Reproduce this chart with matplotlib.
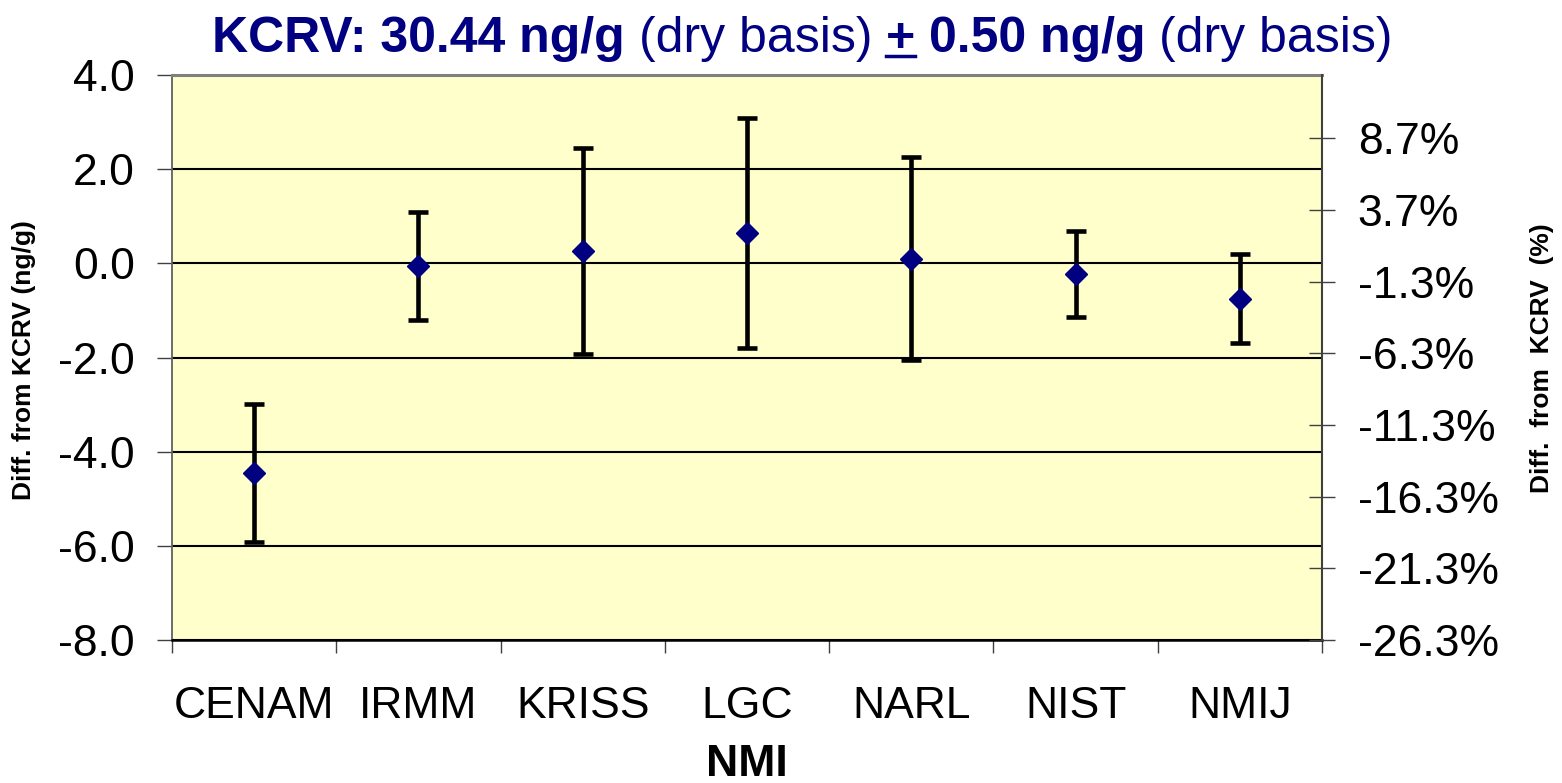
import numpy as np
import matplotlib
matplotlib.use("Agg")
import matplotlib.pyplot as plt
from matplotlib.ticker import FixedLocator, MultipleLocator
from matplotlib.lines import Line2D

plt.rcParams['font.family'] = ['Liberation Sans', 'DejaVu Sans']

# ---- data ----
nmis = ["CENAM", "IRMM", "KRISS", "LGC", "NARL", "NIST", "NMIJ"]
diffs = [-4.45, -0.06, 0.26, 0.645, 0.10, -0.23, -0.75]   # ng/g difference from KCRV
uncs = [1.47, 1.15, 2.18, 2.45, 2.15, 0.92, 0.95]         # expanded uncertainty, ng/g
kcrv = 30.44
left_ticks = [-8.0, -6.0, -4.0, -2.0, 0.0, 2.0, 4.0]
right_tick_labels = ["-26.3%", "-21.3%", "-16.3%", "-11.3%", "-6.3%", "-1.3%", "3.7%", "8.7%"]

W, H = 1562, 783
fig = plt.figure(figsize=(W / 100, H / 100), dpi=100)
fig.patch.set_facecolor('white')

L, R, T, B = 172, 1322, 75, 640
ax = fig.add_axes([L / W, 1 - B / H, (R - L) / W, (B - T) / H])
ax.set_facecolor('#FFFFCC')

x = np.arange(len(nmis))
eb = ax.errorbar(x, diffs, yerr=uncs, fmt='D', color='#000080', markersize=11,
                 ecolor='black', elinewidth=3.3, capsize=7.5, capthick=3.3, zorder=4)
for cap in eb[1]:
    cap.set_solid_capstyle('round')

ax.set_ylim(-8, 4)
ax.set_xlim(-0.5, len(nmis) - 0.5)
ax.yaxis.set_major_locator(FixedLocator(left_ticks))
ax.set_yticklabels([f"{v:.1f}" for v in left_ticks])
ax.yaxis.grid(True, color='black', lw=1.5, zorder=1)
ax.set_axisbelow(True)

ax.set_xticks(x)
ax.set_xticklabels(nmis)
ax.xaxis.set_minor_locator(MultipleLocator(1, offset=0.5))
ax.tick_params(axis='x', which='major', length=0, pad=33, labelsize=32)
ax.tick_params(axis='x', which='minor', length=9.5, width=1, color='#404040', direction='out')
ax.tick_params(axis='y', which='major', length=10.8, width=1, color='#404040', direction='out',
               pad=16, labelsize=32)

ax.spines['top'].set_color('#808080')
ax.spines['top'].set_linewidth(2.2)
ax.spines['left'].set_color('#606060')
ax.spines['left'].set_linewidth(1.3)
ax.spines['bottom'].set_color('black')
ax.spines['bottom'].set_linewidth(1.8)
ax.spines['right'].set_visible(False)

# secondary axis in percent of KCRV
ax2 = ax.twinx()
lo, hi = -8 / kcrv * 100, 4 / kcrv * 100
ax2.set_ylim(lo, hi)
rpos = [lo + 5 * k for k in range(len(right_tick_labels))]
ax2.yaxis.set_major_locator(FixedLocator(rpos))
ax2.set_yticklabels(right_tick_labels)
ax2.tick_params(axis='y', which='major', length=19.4, width=1, color='#404040', direction='inout',
                pad=16, labelsize=32)
for s in ['top', 'left', 'bottom']:
    ax2.spines[s].set_visible(False)
ax2.spines['right'].set_color('#404040')
ax2.spines['right'].set_linewidth(1.5)

# axis titles
fig.text(24 / W, 1 - 360 / H, "Diff. from KCRV (ng/g)", rotation=90, ha='center', va='center',
         fontsize=19, fontweight='bold')
fig.text(1542 / W, 1 - 358 / H, "Diff.  from  KCRV  (%)", rotation=90, ha='center', va='center',
         fontsize=19, fontweight='bold')
fig.text((L + R) / 2 / W, 1 - 776 / H, "NMI", ha='center', va='baseline',
         fontsize=32, fontweight='bold')

# title with mixed weights
navy = '#000080'
tsize = 36
pieces = [("KCRV: 30.44 ng/g", 'bold'), ("(dry basis)", 'normal'), ("+", 'bold'),
          ("0.50 ng/g", 'bold'), ("(dry basis)", 'normal')]
renderer = fig.canvas.get_renderer()

def width_px(s, weight):
    t = fig.text(0, 0, s, fontsize=tsize, fontweight=weight)
    w = t.get_window_extent(renderer).width
    t.remove()
    return w

space = width_px("a a", 'normal') - width_px("aa", 'normal')
widths = [width_px(s, w) for s, w in pieces]
total = sum(widths) + space * (len(pieces) - 1)
cx = 802.5
base_y = 1 - 52 / H
xpos = cx - total / 2
for (s, wgt), wd in zip(pieces, widths):
    fig.text(xpos / W, base_y, s, fontsize=tsize, fontweight=wgt, color=navy,
             ha='left', va='baseline')
    if s == "+":
        uy = base_y - 4 / H
        fig.add_artist(Line2D([xpos / W, (xpos + wd) / W], [uy, uy], transform=fig.transFigure,
                              color=navy, lw=2.5))
    xpos += wd + space

fig.savefig("out.png", dpi=100)
